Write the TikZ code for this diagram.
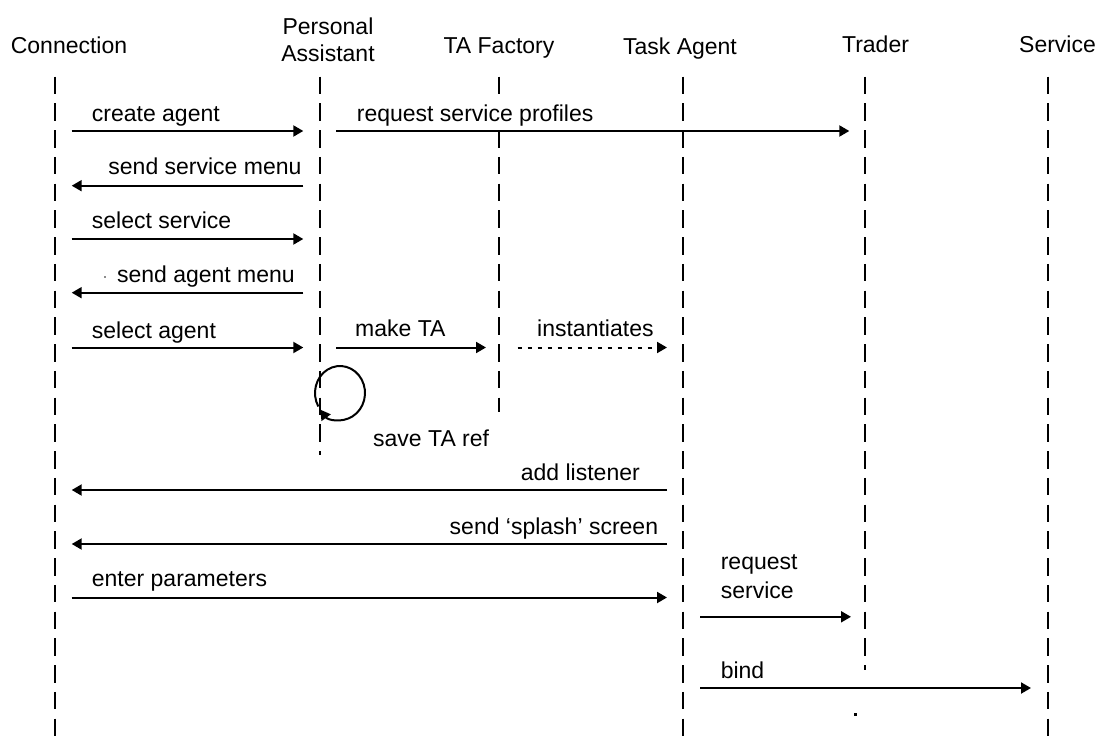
\documentclass[tikz,border=0pt]{standalone}
\usepackage{fontspec}
\setmainfont{Liberation Sans}
\usetikzlibrary{arrows.meta,calc}

\begin{document}
\begin{tikzpicture}[x=1pt,y=-1pt,
  every node/.style={font=\fontsize{23}{27}\selectfont, inner sep=0pt},
  lifeline/.style={line width=2.6pt, dash pattern=on 17.5pt off 9.25pt},
  thinlife/.style={lifeline, line width=1.8pt},
  msg/.style={line width=2pt, -{Triangle[length=10pt,width=11pt]}},
  async/.style={msg, dash pattern=on 4.5pt off 5.5pt},
  lbl/.style={fill=white, inner xsep=0pt, inner ysep=2pt}]
\useasboundingbox (0,0) rectangle (1098,738);

% participants
\node[anchor=base] (h-conn) at (69,54) {Connection};
\node[anchor=north, align=center] (h-pa) at (328,17.5) {Personal\\Assistant};
\node[anchor=base] (h-taf) at (499,54) {TA Factory};
\node[anchor=base] (h-ta) at (680,54.5) {Task Agent};
\node[anchor=base] (h-tr) at (875.5,52.5) {Trader};
\node[anchor=base] (h-sv) at (1057.5,53) {Service};

% lifelines
\coordinate (conn-top) at (55,76.7);   \coordinate (conn-bot) at (55,738);
\coordinate (pa-top)   at (320,76.7);  \coordinate (pa-bot)   at (320,454.5);
\coordinate (taf-top)  at (499,76.7);  \coordinate (taf-bot)  at (499,412);
\coordinate (ta-top)   at (683,76.7);  \coordinate (ta-bot)   at (683,738);
\coordinate (tr-top)   at (865,76.7);  \coordinate (tr-bot)   at (865,670);
\coordinate (sv-top)   at (1048,76.7); \coordinate (sv-bot)   at (1048,738);

\draw[lifeline, line width=2.2pt] (conn-top) -- (conn-bot);
\draw[thinlife] (pa-top) -- (pa-bot);
\draw[lifeline] (taf-top) -- (taf-bot);
\draw[lifeline] (ta-top) -- (ta-bot);
\draw[lifeline] (tr-top) -- (tr-bot);
\draw[lifeline, line width=2.4pt] (sv-top) -- (sv-bot);

% message labels
\node[lbl, anchor=base west] (l-create) at (91.7,121.7) {create agent};
\node[lbl, anchor=base west] (l-profiles) at (356.7,121.7) {request service profiles};
\node[lbl, anchor=base east] (l-svcmenu) at (301.7,175) {send service menu};
\node[lbl, anchor=base west] (l-selsvc) at (91.7,228.3) {select service};
\node[lbl, anchor=base east] (l-agmenu) at (295,282.7) {send agent menu};
\node[lbl, anchor=base west] (l-selag) at (91.7,338) {select agent};
\node[lbl, anchor=base west] (l-make) at (355,336) {make TA};
\node[lbl, anchor=base west] (l-inst) at (537,336) {instantiates};
\node[lbl, anchor=base west] (l-save) at (373,446) {save TA ref};
\node[lbl, anchor=base east] (l-listen) at (640,480) {add listener};
\node[lbl, anchor=base east] (l-splash) at (658.3,534) {send ‘splash’ screen};
\node[lbl, anchor=base west] (l-params) at (91.7,586.7) {enter parameters};
\node[lbl, anchor=north west, align=left, font=\fontsize{23}{28.7}\selectfont]
  (l-reqsvc) at (720.6,552.5) {request\\service};
\node[lbl, anchor=base west] (l-bind) at (720.6,678.7) {bind};

% message end points
\coordinate (m1a) at (71.7,131);   \coordinate (m1b) at (303.3,131);
\coordinate (m2a) at (336,131);    \coordinate (m2b) at (849.3,131);
\coordinate (m3a) at (303.3,185.7); \coordinate (m3b) at (71.7,185.7);
\coordinate (m4a) at (71.7,239);   \coordinate (m4b) at (303.3,239);
\coordinate (m5a) at (303.3,292.7); \coordinate (m5b) at (71.7,292.7);
\coordinate (m6a) at (71.7,347.5); \coordinate (m6b) at (303.3,347.5);
\coordinate (m7a) at (336,347.5);  \coordinate (m7b) at (486,347.5);
\coordinate (m8a) at (517.7,347.5); \coordinate (m8b) at (667,347.5);
\coordinate (loopc) at (340,393);
\coordinate (m10a) at (667,490);   \coordinate (m10b) at (71.7,490);
\coordinate (m11a) at (667,544);   \coordinate (m11b) at (71.7,544);
\coordinate (m12a) at (71.7,597.5); \coordinate (m12b) at (667,597.5);
\coordinate (m13a) at (700.4,616.8); \coordinate (m13b) at (851,616.8);
\coordinate (m14a) at (700.4,688); \coordinate (m14b) at (1031,688);

% messages
\draw[msg] (m1a) -- (m1b);
\draw[msg] (m2a) -- (m2b);
\draw[msg] (m3a) -- (m3b);
\draw[msg] (m4a) -- (m4b);
\draw[msg] (m5a) -- (m5b);
\draw[msg] (m6a) -- (m6b);
\draw[msg] (m7a) -- (m7b);
\draw[async] (m8a) -- (m8b);
\draw[msg] ($(loopc)+(150:25 and 27)$)
  arc[start angle=150, end angle=502, x radius=25, y radius=27];
\draw[msg] (m10a) -- (m10b);
\draw[msg] (m11a) -- (m11b);
\draw[msg] (m12a) -- (m12b);
\draw[msg] (m13a) -- (m13b);
\draw[msg] (m14a) -- (m14b);

% stray specks
\fill[black!45] (104,276) rectangle (106,278);
\fill (854,713) rectangle (857,716);
\end{tikzpicture}
\end{document}
